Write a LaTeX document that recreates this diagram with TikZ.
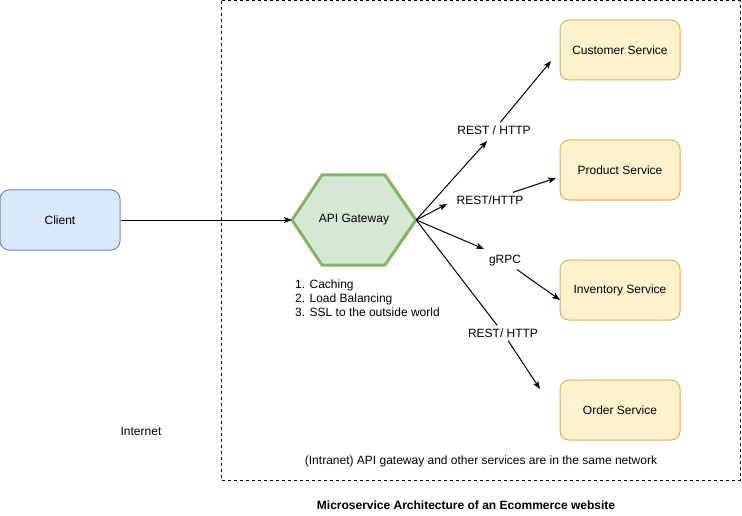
\documentclass[tikz,border=0pt]{standalone}
\usepackage{fontspec}
\setmainfont{Liberation Sans}
\usetikzlibrary{arrows.meta}

\definecolor{clientfill}{HTML}{DAE8FC}
\definecolor{clientline}{HTML}{6C8EBF}
\definecolor{gwfill}{HTML}{D5E8D4}
\definecolor{gwline}{HTML}{82B366}
\definecolor{svcfill}{HTML}{FFF2CC}
\definecolor{svcline}{HTML}{D6B656}

\begin{document}
\begin{tikzpicture}[x=1pt, y=-1pt, font=\fontsize{12}{14}\selectfont,
  box/.style={rounded corners=9pt, line width=1pt, minimum width=120pt, minimum height=60pt, inner sep=0pt},
  svc/.style={box, draw=svcline, fill=svcfill},
  proto/.style={fill=white, inner sep=3pt},
  link/.style={line width=1pt, -{Stealth[length=8pt, width=6pt, inset=2pt]}},
  plain/.style={line width=1pt}]
\useasboundingbox (0,0) rectangle (742,516);

% intranet border
\draw[line width=1pt, dash pattern=on 3pt off 3pt] (221,1) rectangle (740,480);

\node[box, draw=clientline, fill=clientfill] (client) at (60,220) {Client};

% gateway hexagon
\draw[line width=3pt, draw=gwline, fill=gwfill, line join=miter]
  (292,220) -- (322,175) -- (385,175) -- (416,220) -- (385,265) -- (322,265) -- cycle;
\node[minimum width=124pt, minimum height=90pt, inner sep=0pt] (gw) at (354,220) {API Gateway};
\node[anchor=west, align=left, inner sep=0pt] (features) at (295,298) {1. Caching\\2. Load Balancing\\3. SSL to the outside world};

\node[svc] (customer) at (620,50) {Customer Service};
\node[svc] (product) at (620,170) {Product Service};
\node[svc] (inventory) at (620,290) {Inventory Service};
\node[svc] (order) at (620,410) {Order Service};

\node[proto] (l1) at (494,130) {REST / HTTP};
\node[proto] (l2) at (490,200) {REST/HTTP};
\node[proto] (l3) at (505,261) {gRPC};
\node[proto] (l4) at (503,333) {REST/ HTTP};

\coordinate (t1a) at (487,141);
\coordinate (t1b) at (551,61);
\coordinate (t2a) at (447,204);
\coordinate (t2b) at (556,178);
\coordinate (t3a) at (484,249);
\coordinate (t3b) at (560,300);
\coordinate (t4b) at (540,389);

\draw[link] (client) -- (gw.west);
\draw[link] (gw.east) -- (t1a);
\draw[link] (l1) -- (t1b);
\draw[link] (gw.east) -- (t2a);
\draw[link] (l2) -- (t2b);
\draw[link] (gw.east) -- (t3a);
\draw[link] (l3) -- (t3b);
\draw[plain] (gw.east) -- (l4);
\draw[link] (l4) -- (t4b);

\node (internet) at (141,431) {Internet};
\node (intranet) at (481,461) {(Intranet) API gateway and other services are in the same network};
\node[font=\fontsize{12}{14}\selectfont\bfseries] (title) at (466,505) {Microservice Architecture of an Ecommerce website};
\end{tikzpicture}
\end{document}
